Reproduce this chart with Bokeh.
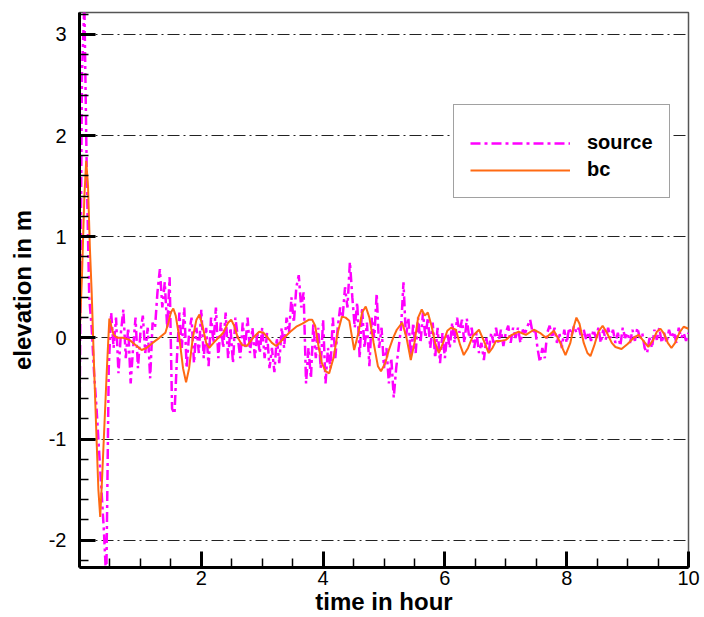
from bokeh.plotting import figure
from bokeh.models import FixedTicker, Range1d, Legend, LegendItem
from bokeh.embed import file_html
from bokeh.resources import INLINE

# ---- data ----
# source: elevation (m) sampled every 0.04 hour from t = 0
SOURCE_DT = 0.04
source_elev = [
    -1.0, 2.6, 3.3, 1.6, 0.4, 0.1, -0.35, -0.7, -1.1, -1.5,
    -1.9, -2.4, -0.3, 0.25, -0.1, 0.2, -0.35, 0.05, 0.28, -0.2,
    0.1, -0.45, -0.1, 0.2, -0.3, 0.05, 0.22, -0.15, 0.1, -0.4,
    0.15, 0.1, 0.45, 0.68, 0.3, 0.55, 0.1, 0.6, -0.7, -0.75,
    -0.2, 0.25, -0.1, 0.3, -0.3, 0.05, 0.2, -0.25, 0.1, -0.15,
    0.28, -0.2, 0.1, -0.28, 0.2, -0.05, 0.3, -0.2, 0.15, -0.1,
    0.25, -0.2, 0.1, -0.25, 0.2, 0.0, -0.2, 0.15, -0.1, 0.2,
    -0.15, 0.1, -0.2, 0.05, -0.15, 0.1, -0.2, 0.05, -0.3, -0.1,
    -0.34, 0.0, -0.25, 0.1, -0.1, 0.2, 0.05, 0.4, 0.15, 0.5,
    0.62, 0.3, 0.45, -0.45, -0.1, -0.4, 0.15, -0.2, 0.1, -0.3,
    0.18, -0.45, -0.1, -0.3, 0.2, -0.2, 0.1, 0.3, 0.2, 0.5,
    0.3, 0.75, 0.4, 0.1, 0.35, -0.2, 0.3, -0.1, 0.15, -0.28,
    0.2, 0.0, 0.44, -0.1, 0.1, -0.3, -0.1, -0.45, -0.2, -0.59,
    -0.3, -0.1, 0.1, 0.55, 0.0, 0.2, -0.2, 0.15, -0.15, 0.2,
    -0.05, 0.25, 0.0, 0.2, -0.1, 0.15, -0.2, 0.1, -0.25, 0.05,
    -0.2, 0.05, -0.1, 0.15, -0.05, 0.2, 0.05, 0.18, -0.05, 0.19,
    0.0, 0.1, -0.1, 0.05, -0.15, -0.05, -0.22, 0.0, -0.15, 0.05,
    -0.05, 0.1, -0.05, 0.08, -0.08, 0.05, 0.12, -0.05, 0.1, 0.0,
    0.1, -0.05, 0.08, 0.05, 0.12, 0.18, 0.05, 0.1, -0.1, -0.24,
    -0.1, -0.2, 0.05, 0.12, 0.0, 0.1, -0.05, 0.05, -0.1, 0.08,
    -0.05, 0.1, 0.02, 0.12, 0.05, 0.1, 0.0, 0.08, -0.02, 0.06,
    -0.03, 0.08, 0.0, 0.1, -0.05, 0.08, -0.02, 0.1, 0.0, 0.08,
    -0.05, 0.05, -0.08, 0.1, 0.0, 0.05, -0.05, 0.08, -0.03, 0.1,
    0.0, 0.05, -0.1, -0.15, 0.0, -0.1, 0.08, -0.02, 0.1, -0.05,
    0.05, -0.05, 0.08, 0.0, 0.06, -0.05, 0.1, 0.0, 0.05, -0.03,
    0.05,
]
source_time = [round(i * SOURCE_DT, 2) for i in range(len(source_elev))]

# bc: boundary-condition elevation (m)
bc_time = [
    0.0, 0.04, 0.08, 0.11, 0.14, 0.17, 0.2, 0.24, 0.28, 0.31,
    0.34, 0.37, 0.41, 0.45, 0.49, 0.52, 0.56, 0.62, 0.72, 0.82,
    0.92, 1.02, 1.1, 1.2, 1.31, 1.41, 1.46, 1.5, 1.54, 1.58,
    1.64, 1.7, 1.75, 1.8, 1.86, 1.92, 1.97, 2.02, 2.08, 2.13,
    2.2, 2.28, 2.36, 2.44, 2.49, 2.54, 2.6, 2.67, 2.75, 2.85,
    2.95, 3.02, 3.08, 3.16, 3.23, 3.3, 3.36, 3.46, 3.56, 3.66,
    3.77, 3.82, 3.87, 3.93, 3.98, 4.04, 4.1, 4.17, 4.24, 4.31,
    4.37, 4.43, 4.51, 4.58, 4.64, 4.7, 4.76, 4.83, 4.9, 4.95,
    5.02, 5.08, 5.15, 5.21, 5.3, 5.37, 5.44, 5.5, 5.56, 5.62,
    5.67, 5.72, 5.78, 5.84, 5.9, 5.97, 6.04, 6.1, 6.18, 6.25,
    6.31, 6.38, 6.46, 6.56, 6.64, 6.72, 6.78, 6.84, 6.92, 7.0,
    7.1, 7.21, 7.33, 7.46, 7.56, 7.66, 7.79, 7.88, 7.98, 8.06,
    8.12, 8.16, 8.21, 8.28, 8.34, 8.39, 8.45, 8.52, 8.59, 8.66,
    8.74, 8.8, 8.9, 9.0, 9.1, 9.18, 9.26, 9.34, 9.42, 9.48,
    9.54, 9.6, 9.66, 9.72, 9.78, 9.85, 9.92, 10.0,
]
bc_elev = [
    0.0, 0.6, 1.4, 1.75, 1.5, 0.9, 0.45, -0.3, -1.0, -1.5,
    -1.77, -1.4, -0.85, -0.3, 0.19, 0.12, 0.03, 0.0, 0.0, -0.02,
    -0.07, -0.12, -0.1, -0.05, 0.0, 0.05, 0.15, 0.25, 0.29, 0.22,
    0.0, -0.3, -0.44, -0.3, 0.0, 0.18, 0.23, 0.12, -0.05, -0.1,
    -0.05, 0.0, 0.05, 0.15, 0.18, 0.12, 0.0, -0.07, -0.08, 0.0,
    0.06, 0.05, 0.01, -0.05, -0.08, -0.04, 0.0, 0.06, 0.11, 0.14,
    0.18, 0.18, 0.12, -0.1, -0.25, -0.33, -0.35, -0.2, 0.05, 0.21,
    0.2, 0.17, -0.12, 0.05, 0.25, 0.31, 0.2, -0.05, -0.28, -0.33,
    -0.25, -0.12, 0.0, 0.08, 0.15, 0.0, -0.22, -0.05, 0.2, 0.28,
    0.22, 0.25, 0.12, -0.05, -0.15, -0.05, 0.07, 0.1, 0.08, -0.07,
    -0.17, -0.1, 0.02, 0.08, -0.03, -0.15, -0.1, -0.03, -0.03, -0.02,
    0.03, 0.06, 0.03, 0.08, 0.05, 0.0, 0.07, -0.03, -0.17, -0.05,
    0.12, 0.2, 0.14, -0.05, -0.15, -0.18, -0.08, 0.06, 0.12, 0.05,
    -0.05, -0.09, -0.11, -0.06, 0.0, 0.03, -0.03, -0.09, -0.02, 0.06,
    0.09, 0.04, -0.05, -0.1, -0.05, 0.05, 0.11, 0.09,
]

series_labels = ["source", "bc"]
x_major_ticks = [2, 4, 6, 8, 10]
x_minor_ticks = [0.5, 1, 1.5, 2.5, 3, 3.5, 4.5, 5, 5.5, 6.5, 7, 7.5, 8.5, 9, 9.5]
y_major_ticks = [-2, -1, 0, 1, 2, 3]
y_minor_ticks = [v / 10 for v in range(-22, 33, 2) if v % 10 != 0]
x_label = "time in hour"
y_label = "elevation in m"

FONT = "Liberation Sans"

p = figure(width=704, height=617, output_backend="svg", toolbar_location=None,
           x_range=Range1d(0, 10), y_range=Range1d(-2.27, 3.216),
           min_border_left=79, min_border_right=16, min_border_top=12,
           min_border_bottom=48, background_fill_color="white",
           border_fill_color="white")

p.outline_line_color = "#555555"
p.outline_line_width = 1.5

for ax in (p.xaxis[0], p.yaxis[0]):
    ax.axis_line_color = "black"
    ax.axis_line_width = 3
    ax.major_tick_line_color = "black"
    ax.major_tick_line_width = 3
    ax.major_tick_in = 16
    ax.major_tick_out = 0
    ax.minor_tick_line_color = "black"
    ax.minor_tick_line_width = 1.5
    ax.minor_tick_in = 9
    ax.minor_tick_out = 0
    ax.major_label_text_font = FONT
    ax.major_label_text_font_size = "20px"
    ax.major_label_text_color = "black"
    ax.axis_label_text_font = FONT
    ax.axis_label_text_font_size = "24px"
    ax.axis_label_text_font_style = "bold"
    ax.axis_label_text_color = "black"

p.xaxis.ticker = FixedTicker(ticks=x_major_ticks, minor_ticks=x_minor_ticks)
p.yaxis.ticker = FixedTicker(ticks=y_major_ticks, minor_ticks=y_minor_ticks)
p.yaxis.major_label_overrides = {t: str(t) for t in y_major_ticks}
p.xaxis.axis_label = x_label
p.yaxis.axis_label = y_label
p.xaxis.major_label_standoff = 3
p.xaxis.axis_label_standoff = 0
p.yaxis.major_label_standoff = 13
p.yaxis.axis_label_standoff = 10

p.xgrid.visible = False
p.ygrid.grid_line_color = "#222222"
p.ygrid.grid_line_width = 1.2
p.ygrid.grid_line_dash = "12 4 2 4"

r_src = p.line(source_time, source_elev, line_color="#FF00FF", line_width=2.5,
               line_dash="10 4 3 4")
r_bc = p.line(bc_time, bc_elev, line_color="#FF6A13", line_width=2)

legend = Legend(
    items=[LegendItem(label=series_labels[0], renderers=[r_src]),
           LegendItem(label=series_labels[1], renderers=[r_bc])],
    location=(374, 369),
    title=" ", title_text_font_size="9px", title_standoff=0,
    glyph_width=100, glyph_height=22, label_height=22, spacing=4,
    padding=16, label_standoff=17,
    label_text_font=FONT, label_text_font_size="20px",
    label_text_font_style="bold", label_text_color="black",
    border_line_color="#444444", border_line_width=1.5,
    background_fill_color="white", background_fill_alpha=1.0,
    margin=0,
)
p.add_layout(legend)

open("out.html", "w").write(file_html(p, INLINE))
